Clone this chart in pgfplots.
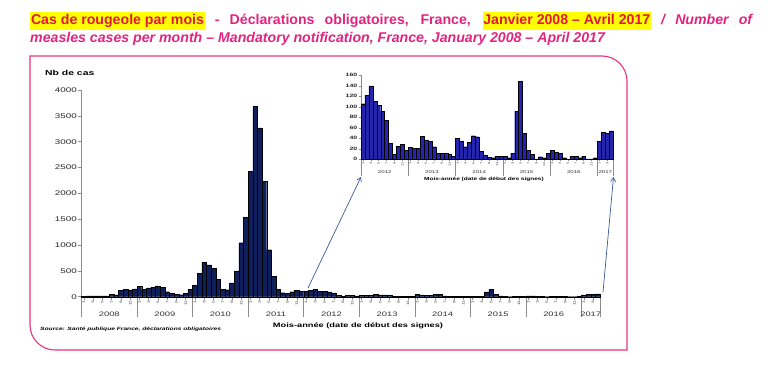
\documentclass[border=0pt]{standalone}
\usepackage{pgfplots}
\pgfplotsset{compat=1.18}
\usepackage{pgfplotstable}
\usepackage{fontspec}
\setmainfont{Liberation Sans}
\newfontfamily\cf[FakeStretch=1.45]{Liberation Sans}
\usetikzlibrary{arrows.meta}

\definecolor{titlered}{HTML}{E3173E}
\definecolor{titlepink}{HTML}{E2237F}
\definecolor{hl}{HTML}{FFFF00}
\definecolor{framepink}{HTML}{E8327E}
\definecolor{navybar}{HTML}{0E1F5B}
\definecolor{insetbar}{HTML}{2424AC}
\definecolor{axgray}{HTML}{8C8C8C}
\definecolor{arrowblue}{HTML}{3B5998}

\newcommand\hl[1]{{\setlength{\fboxsep}{0.8bp}\colorbox{hl}{\strut #1}}}

% Monthly measles cases, January 2008 - December 2011
\pgfplotstableread[row sep=\\]{
n\\
8\\ 15\\ 15\\ 15\\ 14\\ 14\\ 45\\ 35\\ 128\\ 145\\ 125\\ 152\\
205\\ 141\\ 173\\ 186\\ 211\\ 180\\ 96\\ 64\\ 45\\ 38\\ 70\\ 141\\
224\\ 455\\ 667\\ 615\\ 551\\ 340\\ 141\\ 135\\ 269\\ 500\\ 1045\\ 1532\\
2429\\ 3680\\ 3269\\ 2231\\ 910\\ 397\\ 147\\ 77\\ 70\\ 96\\ 128\\ 109\\
}\early

% Monthly measles cases, January 2012 - April 2017
\pgfplotstableread[row sep=\\]{
n\\
106\\ 122\\ 140\\ 110\\ 103\\ 92\\ 74\\ 31\\ 10\\ 25\\ 28\\ 17\\
23\\ 21\\ 21\\ 44\\ 37\\ 34\\ 24\\ 12\\ 12\\ 11\\ 9\\ 6\\
40\\ 35\\ 24\\ 32\\ 45\\ 43\\ 15\\ 8\\ 4\\ 3\\ 6\\ 6\\
6\\ 3\\ 12\\ 92\\ 148\\ 50\\ 17\\ 10\\ 1\\ 5\\ 3\\ 12\\
17\\ 14\\ 12\\ 3\\ 0\\ 6\\ 6\\ 3\\ 6\\ 1\\ 1\\ 3\\
34\\ 52\\ 49\\ 54\\
}\late

\begin{document}
\begin{tikzpicture}
\path[use as bounding box] (0,0) rectangle (768bp,-372bp);

% title
\node[anchor=base west, inner sep=0] at (30bp,-24bp)
  {\fontsize{14.2}{16.5}\selectfont\bfseries\makebox[722bp][s]{%
   \hl{\color{titlered}Cas de rougeole par mois} \color{titlepink}- Déclarations obligatoires, France, \hl{\color{titlered}Janvier 2008 – Avril 2017} {\itshape/ Number of}}};
\node[anchor=base west, inner sep=0] at (30bp,-42bp)
  {\fontsize{14.2}{16.5}\selectfont\bfseries\itshape\color{titlepink}measles cases per month – Mandatory notification, France, January 2008 – April 2017};

% frame with two rounded corners
\draw[framepink, line width=1.1bp]
  (30bp,-56bp) -- (602bp,-56bp) arc[start angle=90, end angle=0, radius=25bp]
  -- (627bp,-350bp) -- (55bp,-350bp) arc[start angle=270, end angle=180, radius=25bp]
  -- cycle;

\pgfplotsset{
  measles/.style={
    scale only axis, anchor=south west, clip=false,
    axis x line*=bottom, axis y line*=left,
    axis line style={-, axgray, line width=0.6bp},
    tick style={axgray, line width=0.5bp},
    tick align=outside,
    scaled y ticks=false,
    /pgf/number format/1000 sep={},
    /pgf/number format/assume math mode=true,
    xticklabel style={rotate=90, anchor=east, inner sep=0.6bp},
    extra x tick labels={},
  },
}

% main chart
\begin{axis}[measles,
  at={(81.5bp,-296.7bp)}, width=518.5bp, height=206.7bp,
  xmin=0, xmax=112, ymin=0, ymax=4000,
  ytick={0,500,...,4000},
  major tick length=3bp,
  yticklabel style={font=\cf\fontsize{6.8}{7}\selectfont, text=black!85, inner sep=1.5bp},
  xtick={0.5,2.5,...,110.5},
  xticklabels={1,3,5,7,9,11,1,3,5,7,9,11,1,3,5,7,9,11,1,3,5,7,9,11,1,3,5,7,9,11,1,3,5,7,9,11,1,3,5,7,9,11,1,3,5,7,9,11,1,3,5,7,9,11,1,3},
  xticklabel style={font=\cf\fontsize{3.4}{3.4}\selectfont, text=black!80},
  extra x ticks={0,12,24,36,48,60,72,84,96,108,112},
  extra x tick style={major tick length=20bp},
]
\addplot[ybar, bar shift=0, bar width=1, fill=navybar, draw=black, line width=0.3bp]
  table[x expr=\coordindex+0.5, y=n] {\early};
\addplot[ybar, bar shift=0, bar width=1, fill=navybar, draw=black, line width=0.3bp]
  table[x expr=\coordindex+48.5, y=n] {\late};
\begin{scope}[every node/.style={font=\cf\fontsize{6.5}{7}\selectfont, text=black!80, yshift=-17.3bp}]
\node at (axis cs:6,0) {2008};
\node at (axis cs:18,0) {2009};
\node at (axis cs:30,0) {2010};
\node at (axis cs:42,0) {2011};
\node at (axis cs:54,0) {2012};
\node at (axis cs:66,0) {2013};
\node at (axis cs:78,0) {2014};
\node at (axis cs:90,0) {2015};
\node at (axis cs:102,0) {2016};
\node at (axis cs:110,0) {2017};
\end{scope}
\end{axis}

% zoom on 2012 - 2017
\begin{axis}[measles,
  at={(361bp,-159.3bp)}, width=252.2bp, height=84bp,
  xmin=0, xmax=64, ymin=0, ymax=160,
  ytick={0,20,...,160},
  major tick length=2bp,
  yticklabel style={font=\cf\bfseries\fontsize{4.8}{5}\selectfont, text=black!85, inner sep=1.5bp},
  xtick={0.5,2.5,...,62.5},
  xticklabels={1,3,5,7,9,11,1,3,5,7,9,11,1,3,5,7,9,11,1,3,5,7,9,11,1,3,5,7,9,11,1,3},
  xticklabel style={font=\cf\fontsize{2.8}{2.8}\selectfont, text=black!80},
  extra x ticks={0,12,24,36,48,60,64},
  extra x tick style={major tick length=17bp},
]
\addplot[ybar, bar shift=0, bar width=1, fill=insetbar, draw=black, line width=0.3bp]
  table[x expr=\coordindex+0.5, y=n] {\late};
\begin{scope}[every node/.style={font=\cf\fontsize{4.2}{5}\selectfont, text=black!80, yshift=-12.4bp}]
\node at (axis cs:6,0) {2012};
\node at (axis cs:18,0) {2013};
\node at (axis cs:30,0) {2014};
\node at (axis cs:42,0) {2015};
\node at (axis cs:54,0) {2016};
\node at (axis cs:62,0) {2017};
\end{scope}
\node[font=\cf\bfseries\fontsize{4.5}{5}\selectfont, yshift=-20bp] at (axis cs:31.2,0)
  {Mois-année (date de début des signes)};
\end{axis}

% labels of the main chart
\node[anchor=west, inner sep=0, font=\cf\bfseries\fontsize{7.2}{8}\selectfont] at (45bp,-73bp) {Nb de cas};
\node[inner sep=0, font=\cf\bfseries\fontsize{6.4}{7}\selectfont] at (358bp,-326bp)
  {Mois-année (date de début des signes)};
\node[anchor=west, inner sep=0, font=\cf\bfseries\itshape\fontsize{4.6}{5}\selectfont] at (40bp,-329bp)
  {Source: Santé publique France, déclarations obligatoires};

% arrows from the main chart to the zoomed chart
\draw[arrowblue, line width=0.7bp, -{Straight Barb[length=4bp, width=5bp]}]
  (308bp,-288bp) -- (361bp,-177bp);
\draw[arrowblue, line width=0.7bp, -{Straight Barb[length=4bp, width=5bp]}]
  (603bp,-292bp) -- (613.5bp,-177bp);
\end{tikzpicture}
\end{document}
